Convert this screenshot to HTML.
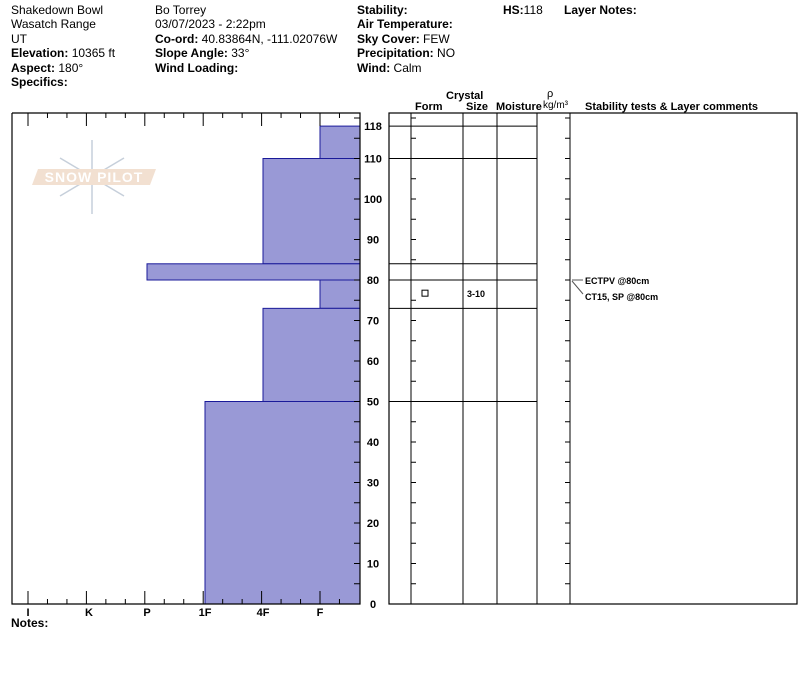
<!DOCTYPE html>
<html><head><meta charset="utf-8"><style>
body{margin:0;background:#fff;width:800px;height:676px;overflow:hidden;font-family:"Liberation Sans",Arial,sans-serif}
svg{position:absolute;left:0;top:0}
</style></head><body>
<svg id="s" width="800" height="676" font-family="Liberation Sans, Arial, sans-serif">
<g font-size="12" fill="#000">
<text x="11" y="14">Shakedown Bowl</text>
<text x="11" y="28">Wasatch Range</text>
<text x="11" y="43">UT</text>
<text x="11" y="57"><tspan font-weight="bold">Elevation:</tspan> 10365 ft</text>
<text x="11" y="72"><tspan font-weight="bold">Aspect:</tspan> 180°</text>
<text x="11" y="86" font-weight="bold">Specifics:</text>
<text x="155" y="14">Bo Torrey</text>
<text x="155" y="28">03/07/2023 - 2:22pm</text>
<text x="155" y="43"><tspan font-weight="bold">Co-ord:</tspan> 40.83864N, -111.02076W</text>
<text x="155" y="57"><tspan font-weight="bold">Slope Angle:</tspan> 33°</text>
<text x="155" y="72" font-weight="bold">Wind Loading:</text>
<text x="357" y="14" font-weight="bold">Stability:</text>
<text x="357" y="28" font-weight="bold">Air Temperature:</text>
<text x="357" y="43"><tspan font-weight="bold">Sky Cover:</tspan> FEW</text>
<text x="357" y="57"><tspan font-weight="bold">Precipitation:</tspan> NO</text>
<text x="357" y="72"><tspan font-weight="bold">Wind:</tspan>  Calm</text>
<text x="503" y="14"><tspan font-weight="bold">HS:</tspan>118</text>
<text x="564" y="14" font-weight="bold">Layer Notes:</text>
<text x="11" y="627" font-weight="bold">Notes:</text>
</g>
<g font-size="11" font-weight="bold">
<text x="446" y="99">Crystal</text>
<text x="415" y="110">Form</text>
<text x="466" y="110">Size</text>
<text x="496" y="110">Moisture</text>
<text x="547" y="97" font-weight="normal">ρ</text>
<text x="543" y="108" font-weight="normal" font-size="10">kg/m³</text>
<text x="585" y="110">Stability tests &amp; Layer comments</text>
</g>
<g opacity="0.8">
<g stroke="#b8c4d2" stroke-width="1.5" fill="none">
<line x1="92" y1="140" x2="92" y2="214"/><line x1="60" y1="158" x2="124" y2="196"/><line x1="60" y1="196" x2="124" y2="158"/>
</g>
<polygon points="38,169 156,169 150,185 32,185" fill="#efd9c6"/>
<text x="94" y="182" text-anchor="middle" fill="#fff" font-size="14" font-weight="bold" letter-spacing="1">SNOW PILOT</text>
</g>
<g id="chart"></g>
</svg>
<script>
const hardLabels=["I","K","P","1F","4F","F"];
const hardTicksX=[28,89,147,205,263,320];
const layerTop=[118,110,84,80,73,50];
const layerBottom=[110,84,80,73,50,0];
const layerHard=[5,4,2,5,4,3]; // index into hardLabels
const depthTicks=[0,10,20,30,40,50,60,70,80,90,100,110,118];
const layerSizes=["","","","3-10","",""];
const layerForms=["","","","□","",""];
const comments=["ECTPV @80cm","CT15, SP @80cm"];

const NS="http://www.w3.org/2000/svg";
const g=document.getElementById('chart');
function el(t,a,p){const e=document.createElementNS(NS,t);for(const k in a)e.setAttribute(k,a[k]);(p||g).appendChild(e);return e;}
const y=cm=>604-cm*4.05;
const hx=h=>28+(h-0)*((320-28)/5); // approx linear hardness
function hxi(i){return hardTicksX[i];}
// bars
layerTop.forEach((t,i)=>{
 const x=hxi(layerHard[i]);
 const r=el('rect',{x:x,y:y(t),width:360-x,height:y(layerBottom[i])-y(t),fill:'#9999d6',stroke:'#1a1a99','stroke-width':1});
 
 
});
// left frame
const f=el('path',{d:`M12 113 V604 H360 V113 H12`,fill:'none',stroke:'#000','stroke-width':1.2});


// hardness ticks
for(let i=0;i<18;i++){
 const x=28+i*(292/15);
 if(x>358)break;
 const major=i%3===0&&i>0&&i<15? true:i%3===0;
 const len=major?13:5;
 el('line',{x1:x,y1:604,x2:x,y2:604-len,stroke:'#000'});
 el('line',{x1:x,y1:113,x2:x,y2:113+len,stroke:'#000'});
}
hardLabels.forEach((l,i)=>{
 const t=el('text',{x:hardTicksX[i],y:616,'text-anchor':'middle','font-size':11,'font-weight':'bold'});t.textContent=l;
 
 
});
// depth ticks
for(let c=0;c<=120;c+=5){el('line',{x1:354,y1:y(c),x2:360,y2:y(c),stroke:'#000'});
 el('line',{x1:411,y1:y(c),x2:416,y2:y(c),stroke:'#000'});
 el('line',{x1:565,y1:y(c),x2:570,y2:y(c),stroke:'#000'});}
depthTicks.forEach(c=>{
 const t=el('text',{x:373,y:y(c)+4,'text-anchor':'middle','font-size':11,'font-weight':'bold'});t.textContent=c;
 
 
});
// right table
const tb=el('rect',{x:389,y:113,width:408,height:491,fill:'none',stroke:'#000','stroke-width':1.2});


[411,463,497,537,570].forEach(x=>el('line',{x1:x,y1:113,x2:x,y2:604,stroke:'#000'}));
layerTop.forEach((t,i)=>{
 const ln=el('line',{x1:389,y1:y(t),x2:537,y2:y(t),stroke:'#000'});
 
 
 const mid=(y(t)+y(layerBottom[i]))/2+4;
 if(layerSizes[i]){const s=el('text',{x:467,y:mid-1,'font-size':9,'font-weight':'bold'});s.textContent=layerSizes[i];}
 if(layerForms[i]){const r=el('rect',{x:422,y:mid-8,width:6,height:6,fill:'none',stroke:'#000'});
  
  }
});
// comments
const ya=y(80);
el('line',{x1:572,y1:ya,x2:583,y2:ya,stroke:'#555'});
el('line',{x1:572,y1:ya+1,x2:583,y2:ya+14,stroke:'#555'});
comments.forEach((c,i)=>{const t=el('text',{x:585,y:ya+4+i*16,'font-size':9,'font-weight':'bold'});t.textContent=c;
 
 });
</script>
</body></html>
